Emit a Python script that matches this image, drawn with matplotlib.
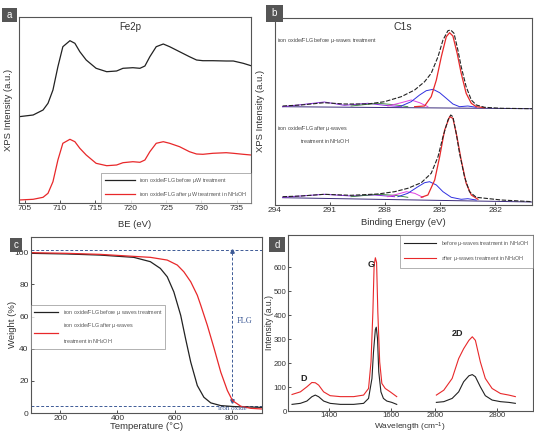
import numpy as np
import matplotlib
matplotlib.use("Agg")
import matplotlib.pyplot as plt
from matplotlib.patches import Rectangle

plt.rcParams['font.family'] = ['Liberation Sans', 'DejaVu Sans']
plt.rcParams['mathtext.default'] = 'regular'

# ---------------- Panel a: Fe2p ----------------
fe_be = [704.2, 706.2, 707.6, 708.3, 709.0, 709.7, 710.4, 711.4, 712.1, 712.8, 713.7,
         715.1, 716.6, 718.0, 718.9, 720.3, 721.3, 722.0, 722.7, 723.6, 724.6, 725.5,
         726.9, 728.3, 729.3, 730.2, 731.6, 733.5, 734.5, 735.9, 737.0]
fe_before = [86.3, 88, 93, 99.7, 113, 136.3, 156.3, 162.3, 159.7, 151.3, 143, 134.7, 131.3,
             132, 134.7, 135.3, 134.7, 137, 146.3, 156.3, 159, 156.3, 151.3, 146.3, 143,
             142.3, 142.3, 142, 142, 139.7, 137.3]
fe_after = [3, 3.7, 5.7, 9.7, 21.3, 43, 59.7, 63.7, 61.3, 54.7, 48, 39.7, 37.3, 38, 40.3,
            41.3, 40.7, 43, 51.3, 59.7, 61.3, 59.7, 56.3, 51.3, 49, 48.7, 49.7, 50.3, 49.7,
            48.7, 48]
fe_ticks = [705, 710, 715, 720, 725, 730, 735]

# ---------------- Panel b: C1s ----------------
c_be_env = [293.56, 292.56, 291.29, 290.2, 288.93, 288.02, 287.11, 286.38, 285.84, 285.48,
            285.11, 284.84, 284.57, 284.42, 284.24, 284.03, 283.85, 283.58, 283.3, 283.03,
            282.58, 281.67, 279.95]
c_top_env = [99, 100, 102.3, 101, 101, 103.3, 108.3, 115, 123.3, 131.7, 148.3, 165, 174.3,
             175, 171.7, 155, 138.3, 118.3, 105, 100, 97.7, 96.7, 96.3]
c_be_red_top = [286.38, 285.84, 285.48, 285.2, 284.93, 284.66, 284.48, 284.3, 284.07, 283.85,
                283.58, 283.3, 283.03, 282.58]
c_top_red = [98.3, 99, 108.3, 125, 148.3, 168.3, 172.3, 169, 151.7, 131.7, 111.7, 101.7, 98.3, 97.3]
c_be_blue_top = [287.11, 286.57, 286.11, 285.75, 285.38, 285.02, 284.66, 284.3, 283.94, 283.49, 283.03]
c_top_blue = [99, 103.3, 110, 114.3, 115.7, 112.3, 106.7, 101, 98.3, 99, 97.7]
c_be_mag_top = [287.84, 287.11, 286.57, 286.11, 285.66]
c_top_mag = [99, 102.3, 105, 102.3, 98.3]
c_be_pur = [293.56, 292.56, 291.29, 290.2, 288.93, 288.02, 287.11]
c_top_pur = [98.3, 100.3, 103, 99.7, 101.7, 99.7, 98.3]
c_be_grn = [289.84, 288.38, 287.47, 286.75]
c_top_grn = [99, 101.7, 100.3, 98.3]
c_base_be = [293.56, 279.95]
c_top_base = [98.3, 96.3]

c_bot_env = [8.3, 9, 10.7, 9.7, 11, 13.3, 16.7, 22.3, 31.7, 48.3, 68.3, 85, 90, 88.3, 71.7,
             51.7, 28.3, 13.3, 7.7, 5, 3.3]
c_be_env_bot = [293.56, 292.56, 291.29, 289.84, 288.38, 287.47, 286.75, 286.02, 285.48,
                285.11, 284.84, 284.57, 284.42, 284.3, 284.12, 283.94, 283.67, 283.4, 283.03,
                281.67, 279.95]
c_be_red_bot = [286.02, 285.66, 285.29, 285.02, 284.75, 284.48, 284.3, 284.08, 283.85, 283.58,
                283.3, 282.94]
c_bot_red = [7.7, 10, 25, 48.3, 75, 88.3, 86.7, 68.3, 45, 21.7, 10, 5.7]
c_be_blue_bot = [287.29, 286.75, 286.2, 285.84, 285.57, 285.2, 284.84, 284.39, 283.85, 283.49, 283.03]
c_bot_blue = [8.3, 11.7, 18.3, 22.3, 23.3, 20, 13.3, 7.7, 5.7, 6.3, 5]
c_be_mag_bot = [287.84, 287.29, 286.83, 286.38, 285.93]
c_bot_mag = [8.3, 11, 13.3, 11.7, 7.7]
c_be_pur_bot = [293.56, 291.29, 289.84, 288.56, 287.47]
c_bot_pur = [7.7, 10.7, 9, 10, 8.3]
c_be_grn_bot = [289.84, 288.38, 287.47, 286.75]
c_bot_grn = [8.3, 10.7, 9.7, 7.7]
c_bot_base = [7.3, 3.0]
c_ticks = [294, 291, 288, 285, 282]

# ---------------- Panel c: TGA ----------------
tga_T_before = [97, 223, 340, 457, 515, 550, 574, 597, 621, 638, 656, 679, 702, 726, 761, 807, 905]
tga_W_before = [99.4, 99, 98.3, 96.9, 94.2, 90, 84.8, 75.4, 60.8, 46.3, 31.7, 17.1, 9.8, 6.3,
                4.6, 4.0, 3.5]
tga_T_after = [97, 223, 340, 457, 515, 574, 609, 632, 656, 679, 691, 714, 738, 761, 784, 802,
               831, 866, 905]
tga_W_after = [99.8, 99.4, 98.75, 97.5, 96.9, 95.2, 92.1, 87.9, 81.7, 73.3, 67.1, 54.6, 40,
               25.4, 14, 7.7, 4.2, 2.9, 2.5]
tga_flg_level = 101.5
tga_oxide_level = 4.2
tga_T_mark = 800

# ---------------- Panel d: Raman ----------------
r_wn1 = [1282, 1309, 1330, 1346, 1357, 1368, 1384, 1405, 1438, 1481, 1513, 1529, 1540, 1545,
         1551, 1554, 1558, 1562, 1569, 1577, 1588, 1604, 1620]
r_before1 = [27.7, 32, 41.6, 59.6, 66.5, 59.6, 41.6, 31.9, 27.7, 27.7, 31.9, 52.6, 135.7, 246.5,
             340, 350, 302, 163.4, 80, 52.6, 41.6, 36, 27.7]
r_wn1r = [1282, 1309, 1330, 1346, 1357, 1368, 1384, 1405, 1438, 1481, 1513, 1529, 1537, 1543,
          1547, 1551, 1555, 1559, 1565, 1572, 1583, 1599, 1620]
r_after1 = [69, 80, 101, 119, 118, 108, 80, 64, 60, 60, 66.5, 94, 205, 413, 607, 640, 620,
            413, 205, 115, 94, 80, 60]
r_wn2 = [2603, 2627, 2654, 2675, 2691, 2708, 2719, 2729, 2745, 2761, 2783, 2810, 2837, 2858]
r_before2 = [36, 39, 52.6, 80, 122, 147, 152, 143, 101, 64, 45.7, 39, 36, 32]
r_after2 = [66.5, 87, 136, 219, 260, 295, 310, 295, 205, 136, 94, 73, 66.5, 60]
r_ticks = [1400, 1600, 2600, 2800]

# ---------------- Figure ----------------
W, H = 534, 433
fig = plt.figure(figsize=(W / 100, H / 100), dpi=100)


def rect(l, t, r, b):
    return [l / W, 1 - b / H, (r - l) / W, (b - t) / H]


TICK_FS = 6
LAB_FS = 6.8
LEG_FS = 3.9
GRAY = '#333333'


def style(ax):
    for s in ax.spines.values():
        s.set_color('#555555')
        s.set_linewidth(0.8)
    ax.tick_params(labelsize=TICK_FS, colors=GRAY, length=2, width=0.6, direction='in', pad=1.5)


def letter(l, t, r, b, ch):
    fig.add_artist(Rectangle((l / W, 1 - b / H), (r - l) / W, (b - t) / H,
                             transform=fig.transFigure, facecolor='#555555', edgecolor='none'))
    fig.text((l + r) / 2 / W, 1 - (t + b) / 2 / H, ch, color='white', fontsize=7,
             ha='center', va='center')


def legstyle(leg):
    leg.get_frame().set_edgecolor('#777777')
    leg.get_frame().set_linewidth(0.5)
    for t in leg.get_texts():
        t.set_color('#555555')


# Panel a
a_l, a_t, a_r, a_b = 19, 17, 251, 203
axa = fig.add_axes(rect(a_l, a_t, a_r, a_b))
style(axa)
axa.plot(fe_be, fe_before, color='#222222', lw=0.9,
         label=r'iron oxide/FLG before $\mu$W treatment')
axa.plot(fe_be, fe_after, color='#e8282a', lw=0.9,
         label=r'iron oxide/FLG after $\mu$W treatment in NH$_4$OH')
axa.set_xlim(704.2, 737)
axa.set_ylim(0, 186)
axa.set_xticks(fe_ticks)
axa.set_yticks([])
axa.text(0.48, 0.975, 'Fe2p', transform=axa.transAxes, ha='center', va='top', fontsize=7, color=GRAY)
axa.set_xlabel('BE (eV)', fontsize=LAB_FS, color=GRAY)
axa.set_ylabel('XPS Intensity (a.u.)', fontsize=LAB_FS, color=GRAY)
axa.yaxis.set_label_coords(-(a_l - 13.5) / (a_r - a_l), 0.5)
axa.xaxis.set_label_coords(0.5, -(220 - a_b) / (a_b - a_t))
leg = axa.legend(loc='lower right', fontsize=LEG_FS, frameon=True, fancybox=False,
                 borderpad=0.7, handlelength=5.5, labelspacing=0.9, borderaxespad=0)
legstyle(leg)

# Panel b
b_l, b_t, b_r, b_b = 274.5, 17.7, 532, 205
axb = fig.add_axes(rect(b_l, b_t, b_r, b_b))
style(axb)
axb.plot(c_base_be, c_top_base, color='#3a2a7a', lw=0.7)
axb.plot(c_be_pur, c_top_pur, color='#8a2be2', lw=0.7)
axb.plot(c_be_grn, c_top_grn, color='#2e7d32', lw=0.6)
axb.plot(c_be_mag_top, c_top_mag, color='#e040e0', lw=0.7)
axb.plot(c_be_blue_top, c_top_blue, color='#3030e0', lw=0.7)
axb.plot(c_be_red_top, c_top_red, color='#e8282a', lw=0.9)
axb.plot(c_be_env, c_top_env, color='#222222', lw=0.8, ls=(0, (4, 1.5)))
axb.plot(c_base_be, c_bot_base, color='#3a2a7a', lw=0.7)
axb.plot(c_be_pur_bot, c_bot_pur, color='#8a2be2', lw=0.7)
axb.plot(c_be_grn_bot, c_bot_grn, color='#2e7d32', lw=0.6)
axb.plot(c_be_mag_bot, c_bot_mag, color='#e040e0', lw=0.7)
axb.plot(c_be_blue_bot, c_bot_blue, color='#3030e0', lw=0.7)
axb.plot(c_be_red_bot, c_bot_red, color='#e8282a', lw=0.9)
axb.plot(c_be_env_bot, c_bot_env, color='#222222', lw=0.8, ls=(0, (4, 1.5)))
axb.set_xlim(294, 280)
axb.set_ylim(0, 187.3)
axb.set_xticks(c_ticks)
axb.set_yticks([])
axb.text(0.5, 0.975, 'C1s', transform=axb.transAxes, ha='center', va='top', fontsize=7.5, color=GRAY)
axb.text(0.01, 0.88, r'iron oxide/FLG before $\mu$-waves treatment', transform=axb.transAxes,
         fontsize=LEG_FS, color='#444444', va='center')
axb.text(0.01, 0.41, r'iron oxide/FLG after $\mu$-waves', transform=axb.transAxes,
         fontsize=LEG_FS, color='#444444', va='center')
axb.text(0.10, 0.34, r'treatment in NH$_4$OH', transform=axb.transAxes,
         fontsize=LEG_FS, color='#444444', va='center')
axb.set_xlabel('Binding Energy (eV)', fontsize=LAB_FS, color=GRAY)
axb.set_ylabel('XPS Intensity (a.u.)', fontsize=LAB_FS, color=GRAY)
axb.yaxis.set_label_coords(-(b_l - 265) / (b_r - b_l), 0.5)
axb.xaxis.set_label_coords(0.5, -(218 - b_b) / (b_b - b_t))

# Panel c
c_l, c_t, c_r, c_b = 30.7, 236.7, 262, 413
axc = fig.add_axes(rect(c_l, c_t, c_r, c_b))
style(axc)
dash_col = '#3d5a96'
axc.axhline(tga_flg_level, color=dash_col, lw=0.7, ls=(0, (3, 2)))
axc.axhline(tga_oxide_level, color=dash_col, lw=0.7, ls=(0, (3, 2)))
axc.vlines(tga_T_mark, tga_oxide_level + 3, tga_flg_level, color=dash_col, lw=0.7, ls=(0, (3, 2)))
axc.plot([tga_T_mark], [tga_flg_level - 0.5], marker='^', ms=2.5, color=dash_col)
axc.plot([tga_T_mark], [tga_oxide_level + 3], marker='v', ms=2.5, color=dash_col)
axc.plot(tga_T_before, tga_W_before, color='#222222', lw=0.9,
         label=r'iron oxide/FLG before $\mu$ waves treatment')
axc.plot(tga_T_after, tga_W_after, color='#e8282a', lw=0.9,
         label='iron oxide/FLG after $\\mu$-waves\n\ntreatment in NH$_4$OH')
axc.text(818, 56, 'FLG', fontsize=6, color=dash_col, family=['Liberation Serif', 'DejaVu Serif'])
axc.text(800, 2.5, 'iron oxide', fontsize=5, color=dash_col, ha='center', va='center',
         family=['Liberation Serif', 'DejaVu Serif'])
axc.set_xlim(97, 905)
axc.set_ylim(0, 109.75)
axc.set_xticks([200, 400, 600, 800])
axc.set_yticks([0, 20, 40, 60, 80, 100])
axc.set_xlabel('Temperature (°C)', fontsize=LAB_FS, color=GRAY)
axc.set_ylabel('Weight (%)', fontsize=LAB_FS, color=GRAY)
axc.yaxis.set_label_coords(-(c_l - 17) / (c_r - c_l), 0.5)
axc.xaxis.set_label_coords(0.5, -(422 - c_b) / (c_b - c_t))
legc = axc.legend(loc='upper left', bbox_to_anchor=(0.0, 0.615), fontsize=LEG_FS, frameon=True,
                  fancybox=False, borderpad=0.6, handlelength=4.5, labelspacing=0.7,
                  borderaxespad=0)
legstyle(legc)

# Panel d
BRK_X = [0, 1650, 2570, 5000]
BRK_Y = [0, 1650, 1715, 4145]


def fwd(x):
    return np.interp(x, BRK_X, BRK_Y)


def inv(y):
    return np.interp(y, BRK_Y, BRK_X)


d_l, d_t, d_r, d_b = 287.7, 235, 533, 411
axd = fig.add_axes(rect(d_l, d_t, d_r, d_b))
style(axd)
axd.tick_params(pad=0.8, labelsize=5.6)
axd.set_xscale('function', functions=(fwd, inv))
axd.plot(r_wn1, r_before1, color='#222222', lw=0.8,
         label=r'before $\mu$-waves treatment in NH$_4$OH')
axd.plot(r_wn1r, r_after1, color='#e8282a', lw=0.8,
         label=r'after $\mu$-waves treatment in NH$_4$OH')
axd.plot(r_wn2, r_before2, color='#222222', lw=0.8)
axd.plot(r_wn2, r_after2, color='#e8282a', lw=0.8)
axd.set_xlim(1268, 2915)
axd.set_ylim(0, 735)
axd.set_xticks(r_ticks)
axd.set_xticklabels([str(v) for v in r_ticks])
axd.minorticks_off()
axd.set_yticks([0, 100, 200, 300, 400, 500, 600])
axd.text(1320, 125, 'D', fontsize=6.5, fontweight='bold', color='#222222', ha='center')
axd.text(1536, 600, 'G', fontsize=6.5, fontweight='bold', color='#222222', ha='center')
axd.text(2672, 315, '2D', fontsize=6.5, fontweight='bold', color='#222222', ha='center')
axd.set_xlabel('Wavelength (cm$^{-1}$)', fontsize=6, color=GRAY)
axd.set_ylabel('Intensity (a.u.)', fontsize=6.2, color=GRAY)
axd.yaxis.set_label_coords(-(d_l - 274.5) / (d_r - d_l), 0.5)
axd.xaxis.set_label_coords(0.5, -(420.5 - d_b) / (d_b - d_t))
legd = axd.legend(loc='upper right', fontsize=LEG_FS, frameon=True, fancybox=False,
                  borderpad=0.8, handlelength=6, labelspacing=1.1, borderaxespad=0)
legstyle(legd)

letter(2, 8, 17, 22, 'a')
letter(266, 5, 283, 22, 'b')
letter(10, 238, 22, 252, 'c')
letter(269, 237, 285, 252, 'd')

fig.savefig('out.png', dpi=100)
